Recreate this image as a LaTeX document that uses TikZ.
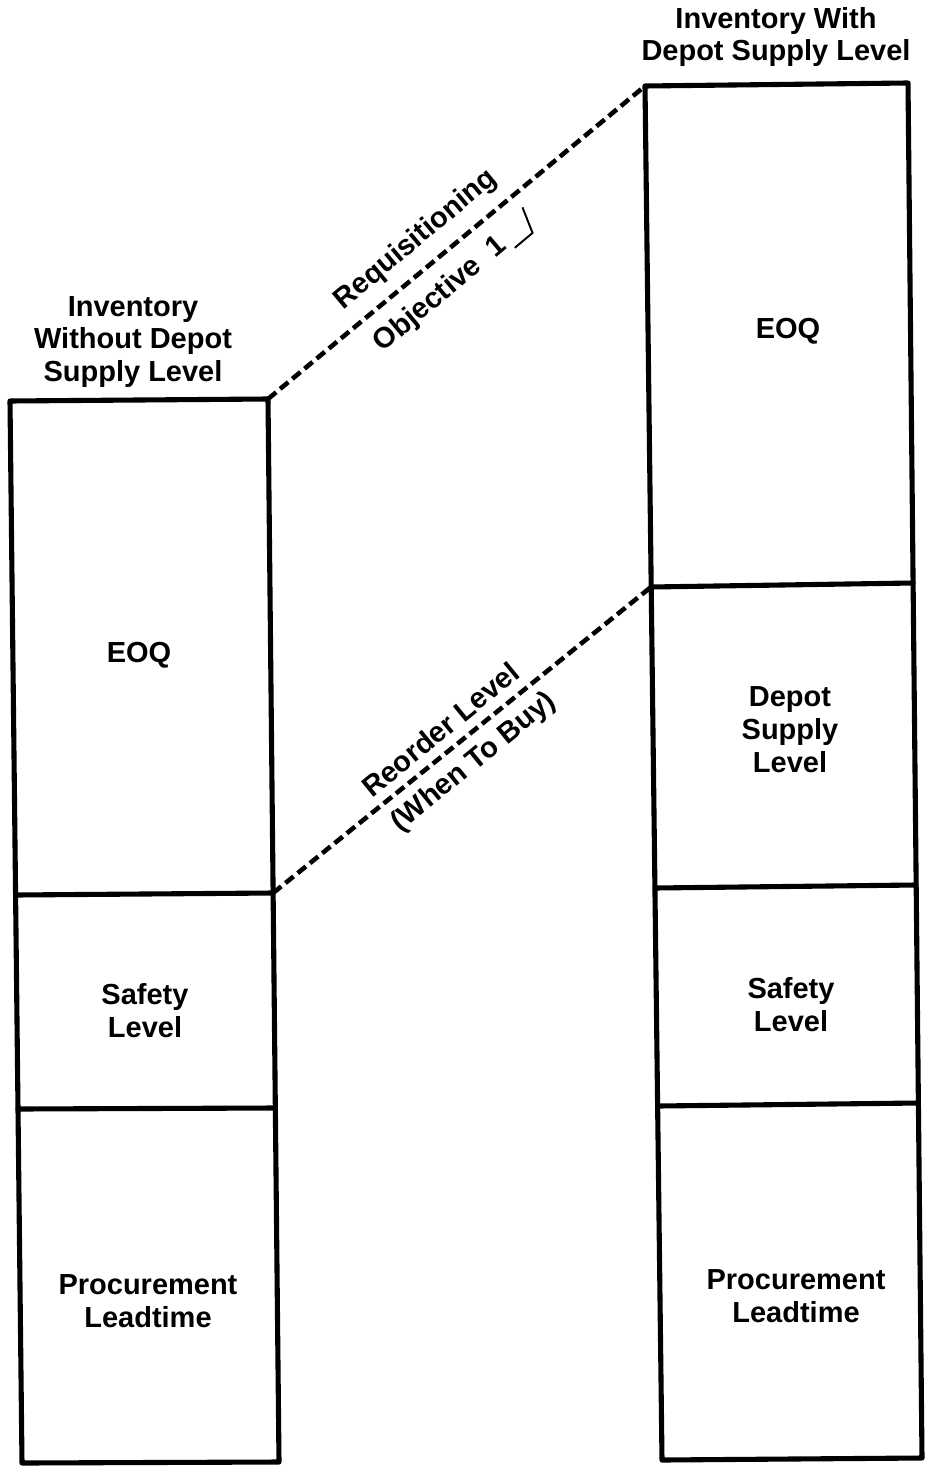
\documentclass[tikz,border=0pt]{standalone}
\usepackage{fontspec}
\setmainfont{Liberation Sans}
\usetikzlibrary{calc}
\begin{document}
\begin{tikzpicture}[x=0.02cm,y=-0.02cm,
  boxline/.style={line width=2.9pt, line join=round, line cap=round},
  dashline/.style={line width=2.6pt, dash pattern=on 6pt off 3pt},
  lbl/.style={font=\fontsize{16.5}{18.7}\selectfont\bfseries, align=center, inner sep=0pt},
]
\useasboundingbox (0,0) rectangle (925,1466);
% left column corners and dividers
\coordinate (LTL) at (10,401);
\coordinate (LTR) at (268,399);
\coordinate (LBL) at (22,1463);
\coordinate (LBR) at (279,1462);
\coordinate (LAl) at (15.6,895);
\coordinate (LAr) at (273.1,893);
\coordinate (LBl) at (18,1109);
\coordinate (LBr) at (275.3,1108);
% right column corners and dividers
\coordinate (RTL) at (645,86);
\coordinate (RTR) at (908,83);
\coordinate (RBL) at (662,1460);
\coordinate (RBR) at (922,1458);
\coordinate (RAl) at (651,587);
\coordinate (RAr) at (913,583);
\coordinate (RBl) at (655,888);
\coordinate (RBr) at (916,885);
\coordinate (RCl) at (658,1106);
\coordinate (RCr) at (918.5,1103);

\draw[boxline] (LTL) -- (LTR) -- (LBR) -- (LBL) -- cycle;
\draw[boxline] (LAl) -- (LAr);
\draw[boxline] (LBl) -- (LBr);
\draw[boxline] (RTL) -- (RTR) -- (RBR) -- (RBL) -- cycle;
\draw[boxline] (RAl) -- (RAr);
\draw[boxline] (RBl) -- (RBr);
\draw[boxline] (RCl) -- (RCr);

% dashed connectors
\draw[dashline] (LTR) -- (RTL);
\draw[dashline] (LAr) -- (RAl);

% titles
\node[lbl] (ltitle) at (133,342) {Inventory\\Without Depot\\Supply Level};
\node[lbl] (rtitle) at (776,37) {Inventory With\\Depot Supply Level};

% left box labels
\node[lbl] (leoq) at (139,655) {EOQ};
\node[lbl] (lsafe) at (145,1011) {Safety\\Level};
\node[lbl] (lproc) at (148,1301) {Procurement\\Leadtime};

% right box labels
\node[lbl] (reoq) at (788,331) {EOQ};
\node[lbl] (rdepot) at (790,730) {Depot\\Supply\\Level};
\node[lbl] (rsafe) at (791,1005) {Safety\\Level};
\node[lbl] (rproc) at (796,1296) {Procurement\\Leadtime};

% sloped labels
\node[lbl, rotate=40] (req) at ($(LTR)!0.44!(RTL)!0.56cm!90:(RTL)$) {Requisitioning};
\node[lbl, rotate=40] (obj) at ($(LTR)!0.446!(RTL)!0.58cm!-90:(RTL)$)
  {Objective\ \ 1\,\tikz[x=1em,y=1em,baseline=0pt]\draw[line width=1.1pt] (-0.1,-0.15)--(0.7,-0.15)--(1.0,0.75);};
\node[lbl, rotate=39.3] (reo) at ($(LAr)!0.479!(RAl)!0.44cm!90:(RAl)$) {Reorder Level};
\node[lbl, rotate=39.3] (when) at ($(LAr)!0.49!(RAl)!0.5cm!-90:(RAl)$) {(When To Buy)};
\end{tikzpicture}
\end{document}
